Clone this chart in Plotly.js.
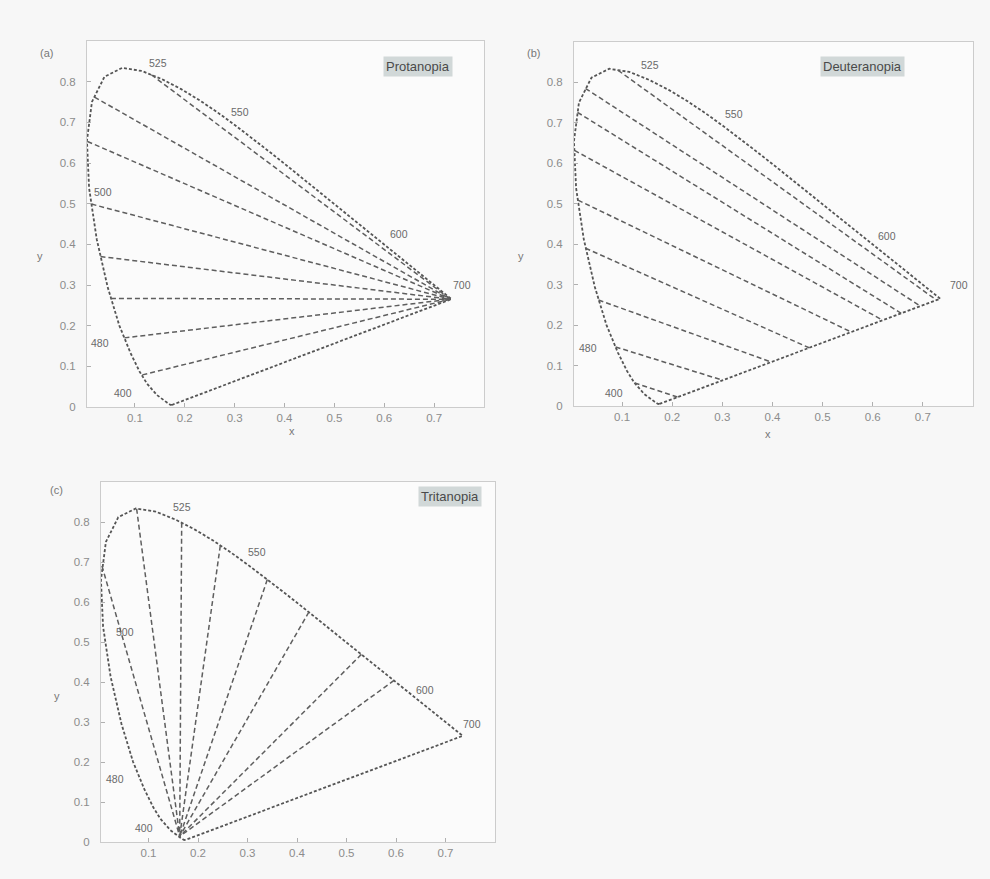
<!DOCTYPE html>
<html>
<head>
<meta charset="utf-8">
<script src="https://cdn.plot.ly/plotly-3.0.1.min.js"></script>
<style>
  html, body { margin: 0; padding: 0; background: #f7f7f7; }
  #chart { width: 990px; height: 879px; }
</style>
</head>
<body>
<div id="chart"></div>
<script>
// CIE 1931 spectral locus (chromaticity x, y by wavelength in nm)
const locusNm = [380, 420, 440, 450, 460, 470, 475, 480, 485, 490, 495, 500, 505, 510, 515, 520, 525, 530, 535, 540, 545, 550, 555, 560, 565, 570, 575, 580, 585, 590, 595, 600, 610, 620, 630, 640, 650, 700];
const locusX = [0.1741, 0.1714, 0.1644, 0.1566, 0.1440, 0.1241, 0.1096, 0.0913, 0.0687, 0.0454, 0.0235, 0.0082, 0.0039, 0.0139, 0.0389, 0.0743, 0.1142, 0.1547, 0.1929, 0.2296, 0.2658, 0.3016, 0.3373, 0.3731, 0.4087, 0.4441, 0.4788, 0.5125, 0.5448, 0.5752, 0.6029, 0.6270, 0.6658, 0.6915, 0.7079, 0.7190, 0.7260, 0.7347];
const locusY = [0.0050, 0.0051, 0.0109, 0.0177, 0.0297, 0.0578, 0.0868, 0.1327, 0.2007, 0.2950, 0.4127, 0.5384, 0.6548, 0.7502, 0.8120, 0.8338, 0.8262, 0.8059, 0.7816, 0.7543, 0.7243, 0.6923, 0.6589, 0.6245, 0.5896, 0.5547, 0.5202, 0.4866, 0.4544, 0.4242, 0.3965, 0.3725, 0.3340, 0.3083, 0.2920, 0.2809, 0.2740, 0.2653];

// Protanopia: confusion lines from the locus to the copunctal point
const protanFromX = [0.133, 0.019, 0.005, 0.013, 0.031, 0.052, 0.079, 0.115];
const protanFromY = [0.817, 0.762, 0.653, 0.499, 0.370, 0.267, 0.170, 0.079];
const protanPointX = 0.733;
const protanPointY = 0.265;

// Deuteranopia: confusion lines from the locus to the purple line
const deutanFromX = [0.092, 0.027, 0.011, 0.005, 0.012, 0.027, 0.053, 0.087, 0.125];
const deutanFromY = [0.830, 0.785, 0.726, 0.632, 0.509, 0.390, 0.262, 0.146, 0.057];
const deutanToX = [0.727, 0.695, 0.657, 0.620, 0.557, 0.473, 0.397, 0.300, 0.211];
const deutanToY = [0.262, 0.247, 0.229, 0.212, 0.183, 0.144, 0.109, 0.064, 0.022];

// Tritanopia: confusion lines fanning from the copunctal point to the locus
const tritanToX = [0.006, 0.076, 0.167, 0.245, 0.340, 0.424, 0.530, 0.596];
const tritanToY = [0.690, 0.833, 0.798, 0.741, 0.656, 0.575, 0.469, 0.404];
const tritanPointX = 0.163;
const tritanPointY = 0.014;

// Wavelength labels per panel
const labelsA = ['525', '550', '600', '700', '500', '480', '400'];
const labelsB = ['525', '550', '600', '700', '480', '400'];
const labelsC = ['525', '550', '600', '700', '500', '480', '400'];

const panelNames = ['Protanopia', 'Deuteranopia', 'Tritanopia'];
const panelTags = ['(a)', '(b)', '(c)'];
const xTicks = [0.1, 0.2, 0.3, 0.4, 0.5, 0.6, 0.7];
const yTicks = [0, 0.1, 0.2, 0.3, 0.4, 0.5, 0.6, 0.7, 0.8];

const W = 990, H = 879;
const FONT = 'Liberation Sans, Arial, sans-serif';

function segs(x0, y0, x1, y1) {
  const xs = [], ys = [];
  for (let i = 0; i < x0.length; i++) {
    xs.push(x0[i], Array.isArray(x1) ? x1[i] : x1, null);
    ys.push(y0[i], Array.isArray(y1) ? y1[i] : y1, null);
  }
  return { x: xs, y: ys };
}

function locusTrace(xa, ya) {
  return {
    type: 'scatter', mode: 'lines', xaxis: xa, yaxis: ya,
    x: locusX.concat([locusX[0]]), y: locusY.concat([locusY[0]]),
    line: { color: '#555555', width: 1.8, dash: '3px,2px' },
    hoverinfo: 'skip', showlegend: false
  };
}

function lineTrace(s, xa, ya) {
  return {
    type: 'scatter', mode: 'lines', xaxis: xa, yaxis: ya,
    x: s.x, y: s.y, connectgaps: false,
    line: { color: '#5e5e5e', width: 1.5, dash: '5px,3px' },
    hoverinfo: 'skip', showlegend: false
  };
}

const traces = [
  locusTrace('x', 'y'),
  lineTrace(segs(protanFromX, protanFromY, protanPointX, protanPointY), 'x', 'y'),
  locusTrace('x2', 'y2'),
  lineTrace(segs(deutanFromX, deutanFromY, deutanToX, deutanToY), 'x2', 'y2'),
  locusTrace('x3', 'y3'),
  lineTrace(segs(tritanToX, tritanToY, tritanPointX, tritanPointY), 'x3', 'y3')
];

function xAxis(left, right, anchor) {
  return {
    anchor: anchor,
    domain: [left / W, right / W], range: [0.004, 0.8],
    showgrid: false, zeroline: false, showline: true, mirror: true,
    linecolor: '#cccccc', linewidth: 1,
    ticks: 'inside', ticklen: 4, tickcolor: '#b0b0b0',
    tickvals: xTicks, ticktext: xTicks.map(v => v.toFixed(1)),
    tickfont: { family: FONT, size: 11.5, color: '#8c8c8c' },
    fixedrange: true
  };
}
function yAxis(top, bottom, anchor) {
  return {
    anchor: anchor,
    domain: [1 - bottom / H, 1 - top / H], range: [0, 0.9],
    showgrid: false, zeroline: false, showline: true, mirror: true,
    linecolor: '#cccccc', linewidth: 1,
    ticks: 'inside', ticklen: 4, tickcolor: '#b0b0b0',
    tickvals: yTicks, ticktext: yTicks.map(v => v === 0 ? '0' : v.toFixed(1)),
    tickfont: { family: FONT, size: 11.5, color: '#8c8c8c' },
    ticklabelstandoff: 8,
    fixedrange: true
  };
}

const labelFont = { family: FONT, size: 10.5, color: '#6a6a6a' };
function wl(text, x, y, xa, ya) {
  return { text: text, x: x, y: y, xref: xa, yref: ya, showarrow: false, font: labelFont };
}
function paperText(text, px, py, opts) {
  return Object.assign({
    text: text, x: px / W, y: 1 - py / H, xref: 'paper', yref: 'paper',
    showarrow: false, font: { family: FONT, size: 11, color: '#777' }
  }, opts || {});
}
function nameBox(text, px, py) {
  return paperText(text, px, py, {
    bgcolor: '#d1d8d8', borderpad: 2,
    font: { family: FONT, size: 13, color: '#4a4a4a' }
  });
}

const posA = [[0.146, 0.845], [0.311, 0.725], [0.630, 0.425], [0.755, 0.300], [0.036, 0.528], [0.030, 0.157], [0.076, 0.034]];
const posB = [[0.155, 0.842], [0.323, 0.723], [0.628, 0.420], [0.772, 0.300], [0.032, 0.144], [0.083, 0.031]];
const posC = [[0.167, 0.838], [0.319, 0.725], [0.659, 0.380], [0.754, 0.296], [0.052, 0.526], [0.032, 0.157], [0.090, 0.034]];

const annotations = [];
labelsA.forEach((t, i) => annotations.push(wl(t, posA[i][0], posA[i][1], 'x', 'y')));
labelsB.forEach((t, i) => annotations.push(wl(t, posB[i][0], posB[i][1], 'x2', 'y2')));
labelsC.forEach((t, i) => annotations.push(wl(t, posC[i][0], posC[i][1], 'x3', 'y3')));

annotations.push(nameBox(panelNames[0], 418, 56));
annotations.push(nameBox(panelNames[1], 905, 56));
annotations.push(nameBox(panelNames[2], 450, 496));

annotations.push(paperText(panelTags[0], 38, 45));
annotations.push(paperText(panelTags[1], 533, 45));
annotations.push(paperText(panelTags[2], 48, 490));

annotations.push(paperText('y', 35, 248));
annotations.push(paperText('y', 521, 248));
annotations.push(paperText('y', 52, 704));
annotations.push(paperText('x', 287, 431));
annotations.push(paperText('x', 773, 434));

const layout = {
  width: W, height: H,
  margin: { l: 0, r: 0, t: 0, b: 0 },
  paper_bgcolor: '#f7f7f7',
  plot_bgcolor: '#fbfbfb',
  showlegend: false,
  xaxis: xAxis(87, 484, 'y'), yaxis: yAxis(41, 407, 'x'),
  xaxis2: xAxis(574, 973, 'y2'), yaxis2: yAxis(42, 406, 'x2'),
  xaxis3: xAxis(101, 495, 'y3'), yaxis3: yAxis(482, 842, 'x3'),
  annotations: annotations
};

Plotly.newPlot('chart', traces, layout, { displayModeBar: false, staticPlot: true });
</script>
</body>
</html>
